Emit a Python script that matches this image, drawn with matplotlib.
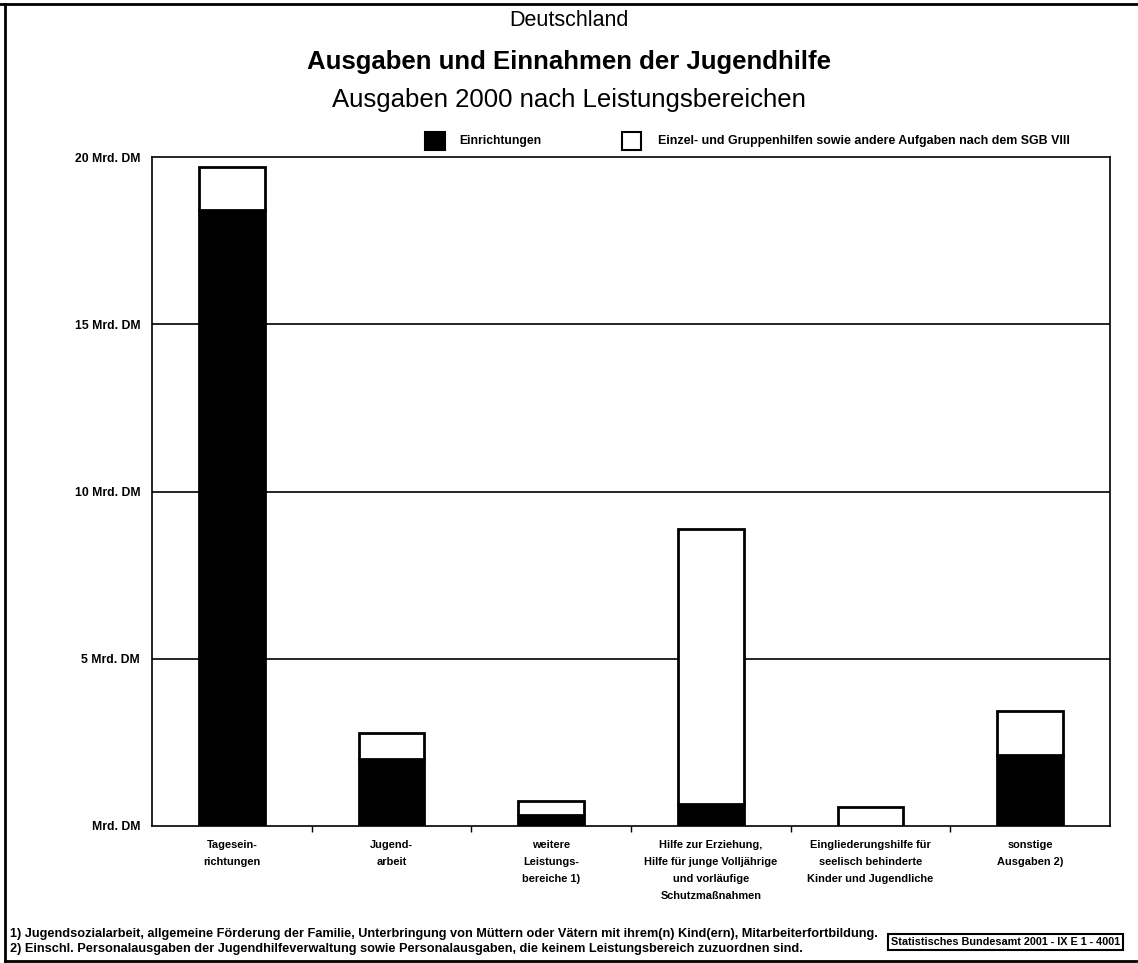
#!/usr/bin/env python3

import numpy as np
import matplotlib.pyplot as plt
from matplotlib.patches import Rectangle

plt.rcParams['font.family'] = ['Liberation Sans', 'DejaVu Sans']

### Ausgaben 2000 nach Leistungsbereichen, Mrd. DM

categories = ["Tagesein-\nrichtungen",
              "Jugend-\narbeit",
              "weitere\nLeistungs-\nbereiche 1)",
              "Hilfe zur Erziehung,\nHilfe für junge Volljährige\nund vorläufige\nSchutzmaßnahmen",
              "Eingliederungshilfe für\nseelisch behinderte\nKinder und Jugendliche",
              "sonstige\nAusgaben 2)"]
einrichtungen = [18.42, 1.99, 0.33, 0.65, 0.0, 2.12]
einzelhilfen = [1.29, 0.80, 0.43, 8.22, 0.58, 1.33]

yticks = [0, 5, 10, 15, 20]
ylabels = ["Mrd. DM", "5 Mrd. DM", "10 Mrd. DM", "15 Mrd. DM", "20 Mrd. DM"]

footnote1 = ("1) Jugendsozialarbeit, allgemeine Förderung der Familie, Unterbringung von Müttern "
             "oder Vätern mit ihrem(n) Kind(ern), Mitarbeiterfortbildung.")
footnote2 = ("2) Einschl. Personalausgaben der Jugendhilfeverwaltung sowie Personalausgaben, "
             "die keinem Leistungsbereich zuzuordnen sind.")
source = "Statistisches Bundesamt 2001 - IX E 1 - 4001"


W, H = 1138, 963
fig = plt.figure(figsize=(W/100, H/100), dpi=100)
ax = fig.add_axes([152/W, 1-826/H, (1110-152)/W, (826-157)/H])

x = np.arange(len(categories))
ax.bar(x, einrichtungen, width=0.41, color="black", edgecolor="black", linewidth=2, zorder=3)
ax.bar(x, einzelhilfen, width=0.41, bottom=einrichtungen, color="white",
       edgecolor="black", linewidth=2, zorder=3)

ax.set_xlim(-0.5, len(categories)-0.5)
ax.set_ylim(0, 20)
ax.set_yticks(yticks)
ax.set_yticklabels(ylabels, fontsize=8.8, fontweight="bold")
ax.tick_params(axis="y", length=0, pad=8.5)
ax.set_xticks(x)
ax.set_xticklabels(categories, fontsize=7.9, fontweight="bold", linespacing=1.9)
ax.tick_params(axis="x", length=0, pad=10)
ax.set_xticks(np.arange(len(categories)-1)+0.5, minor=True)
ax.tick_params(axis="x", which="minor", length=4, direction="out", width=1)

for v in yticks[1:-1]:
    ax.axhline(v, color="black", linewidth=1.2, zorder=1)
for s in ax.spines.values():
    s.set_linewidth(1.2)
ax.spines["left"].set_linestyle((0, (4, 1)))
ax.spines["right"].set_linestyle((0, (4, 1)))

# Legende
fig.patches.append(Rectangle((425/W, 1-150/H), 20/W, 18/H, transform=fig.transFigure,
                             facecolor="black", edgecolor="black", linewidth=1.5))
fig.text(459/W, 1-141/H, "Einrichtungen", fontsize=8.7, fontweight="bold", va="center")
fig.patches.append(Rectangle((622/W, 1-150/H), 19/W, 18/H, transform=fig.transFigure,
                             facecolor="white", edgecolor="black", linewidth=1.5))
fig.text(658/W, 1-141/H, "Einzel- und Gruppenhilfen sowie andere Aufgaben nach dem SGB VIII",
         fontsize=8.9, fontweight="bold", va="center")

# Titel
fig.text(0.5, 1-20/H, "Deutschland", fontsize=15.5, ha="center", va="center")
fig.text(0.5, 1-62/H, "Ausgaben und Einnahmen der Jugendhilfe", fontsize=18.5,
         fontweight="bold", ha="center", va="center")
fig.text(0.5, 1-100/H, "Ausgaben 2000 nach Leistungsbereichen", fontsize=18.5,
         ha="center", va="center")

# Fussnoten
fig.text(10/W, 1-934/H, footnote1, fontsize=9.2, fontweight="bold", va="center")
fig.text(10/W, 1-949/H, footnote2, fontsize=9.2, fontweight="bold", va="center")
fig.text(891/W, 1-942/H, source, fontsize=7.8, fontweight="bold", va="center",
         bbox=dict(boxstyle="square,pad=0.3", facecolor="white", edgecolor="black", linewidth=1.5))

# Rahmen
fig.add_artist(plt.Line2D([5/W, 5/W], [1-4/H, 1-961/H], transform=fig.transFigure,
                          color="black", linewidth=2))
fig.add_artist(plt.Line2D([0, 1], [1-4/H, 1-4/H], transform=fig.transFigure,
                          color="black", linewidth=2))
fig.add_artist(plt.Line2D([5/W, 1], [1-961/H, 1-961/H], transform=fig.transFigure,
                          color="black", linewidth=2))

fig.savefig("out.png", dpi=100)
